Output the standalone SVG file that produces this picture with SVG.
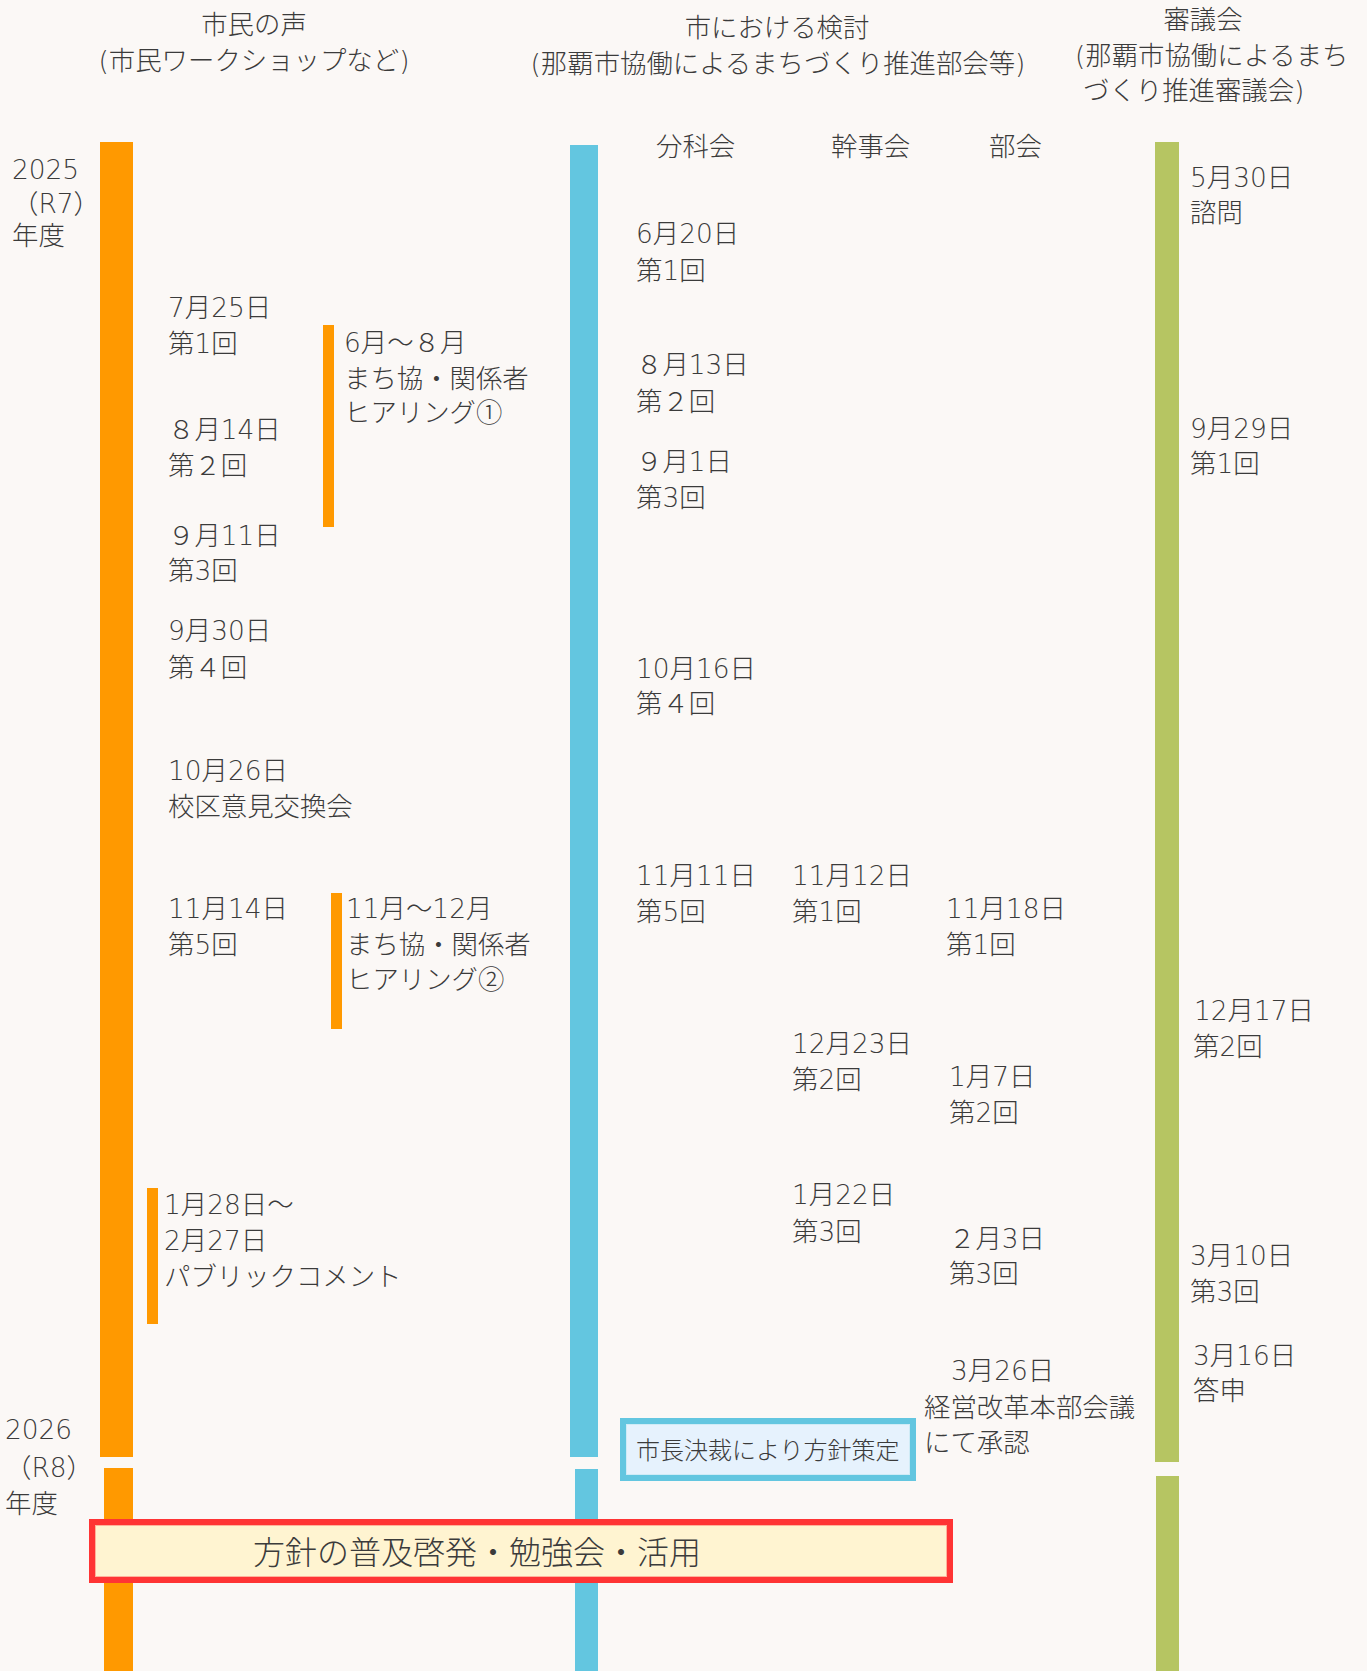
<svg xmlns="http://www.w3.org/2000/svg" width="1367" height="1671" viewBox="0 0 1367 1671">
<style>
text{font-family:"DejaVu Sans","Noto Sans CJK JP",sans-serif;font-weight:300;font-size:26.4px;fill:#3b3b3b}
.c{text-anchor:middle}
.or{fill:#FF9900}
.bl{fill:#63C6E0}
.gr{fill:#B6C562}
.big{font-size:32px}
.sm{font-size:24px}
</style>
<rect width="1367" height="1671" fill="#FBF8F6"/>
<g id="headers">
<text class="c" x="254" y="34">市民の声</text>
<text class="c" x="254" y="70">(市民ワークショップなど)</text>
<text class="c" x="777" y="37">市における検討</text>
<text class="c" x="778" y="73">(那覇市協働によるまちづくり推進部会等)</text>
<text class="c" x="1203" y="29">審議会</text>
<text x="1075" y="65">(那覇市協働によるまち</text>
<text x="1083" y="100">づくり推進審議会)</text>
<text x="656" y="156">分科会</text>
<text x="831" y="156">幹事会</text>
<text x="989" y="156">部会</text>
</g>
<g id="years">
<text x="12" y="179">2025</text>
<text x="12" y="213">（R7）</text>
<text x="12" y="245">年度</text>
<text x="5" y="1439">2026</text>
<text x="5" y="1477">（R8）</text>
<text x="5" y="1513">年度</text>
</g>
<g id="lanes">
<rect class="or" x="100" y="142" width="33" height="1315"/>
<rect class="or" x="104" y="1468" width="29" height="203"/>
<rect class="bl" x="570" y="145" width="28" height="1312"/>
<rect class="bl" x="575" y="1469" width="23" height="202"/>
<rect class="gr" x="1155" y="142" width="24" height="1320"/>
<rect class="gr" x="1156" y="1476" width="23" height="195"/>
<rect class="or" x="323" y="325" width="11" height="202"/>
<rect class="or" x="331" y="893" width="11" height="136"/>
<rect class="or" x="147" y="1188" width="11" height="136"/>
</g>
<g id="citizen">
<text x="168" y="317">7月25日</text>
<text x="168" y="353">第1回</text>
<text x="168" y="439">８月14日</text>
<text x="168" y="475">第２回</text>
<text x="168" y="545">９月11日</text>
<text x="168" y="580">第3回</text>
<text x="168" y="640">9月30日</text>
<text x="168" y="677">第４回</text>
<text x="168" y="780">10月26日</text>
<text x="168" y="816">校区意見交換会</text>
<text x="168" y="918">11月14日</text>
<text x="168" y="954">第5回</text>
</g>
<g id="hearing1">
<text x="344" y="352">6月～８月</text>
<text x="344" y="388">まち協・関係者</text>
<text x="344" y="422">ヒアリング①</text>
</g>
<g id="hearing2">
<text x="346" y="918">11月～12月</text>
<text x="346" y="954">まち協・関係者</text>
<text x="346" y="989">ヒアリング②</text>
</g>
<g id="pubcom">
<text x="164" y="1214">1月28日～</text>
<text x="164" y="1250">2月27日</text>
<text x="164" y="1286">パブリックコメント</text>
</g>
<g id="bunkakai">
<text x="636" y="243">6月20日</text>
<text x="636" y="280">第1回</text>
<text x="636" y="374">８月13日</text>
<text x="636" y="411">第２回</text>
<text x="636" y="471">９月1日</text>
<text x="636" y="507">第3回</text>
<text x="636" y="678">10月16日</text>
<text x="636" y="713">第４回</text>
<text x="636" y="885">11月11日</text>
<text x="636" y="921">第5回</text>
</g>
<g id="kanjikai">
<text x="792" y="885">11月12日</text>
<text x="792" y="921">第1回</text>
<text x="792" y="1053">12月23日</text>
<text x="792" y="1089">第2回</text>
<text x="792" y="1204">1月22日</text>
<text x="792" y="1241">第3回</text>
</g>
<g id="bukai">
<text x="946" y="918">11月18日</text>
<text x="946" y="954">第1回</text>
<text x="949" y="1086">1月7日</text>
<text x="949" y="1122">第2回</text>
<text x="949" y="1248">２月3日</text>
<text x="949" y="1283">第3回</text>
<text x="951" y="1380">3月26日</text>
<text x="924" y="1417">経営改革本部会議</text>
<text x="924" y="1452">にて承認</text>
</g>
<g id="shingikai">
<text x="1190" y="187">5月30日</text>
<text x="1190" y="222">諮問</text>
<text x="1190" y="438">9月29日</text>
<text x="1190" y="473">第1回</text>
<text x="1194" y="1020">12月17日</text>
<text x="1193" y="1056">第2回</text>
<text x="1190" y="1265">3月10日</text>
<text x="1190" y="1301">第3回</text>
<text x="1193" y="1365">3月16日</text>
<text x="1193" y="1400">答申</text>
</g>
<g id="decision">
<rect x="623" y="1421" width="290" height="57" fill="#E6F2FD" stroke="#63C6E0" stroke-width="6"/>
<rect x="626.5" y="1424.5" width="283" height="50" fill="none" stroke="#CFEBF6" stroke-width="1"/>
<text class="sm" x="636" y="1459">市長決裁により方針策定</text>
</g>
<g id="dissemination">
<rect x="92" y="1522" width="858" height="58" fill="#FFF4D1" stroke="#FF3434" stroke-width="6"/>
<rect x="95.5" y="1525.5" width="851" height="51" fill="none" stroke="#FFB29A" stroke-width="1"/>
<text class="big c" x="477" y="1564">方針の普及啓発・勉強会・活用</text>
</g>
</svg>
